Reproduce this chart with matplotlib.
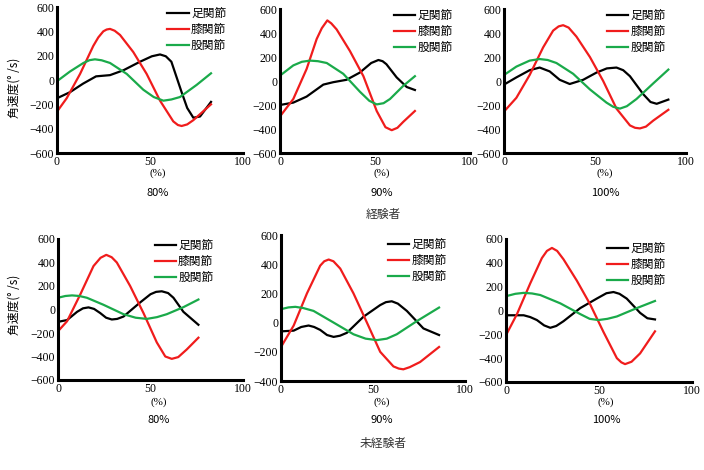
import matplotlib
matplotlib.use("Agg")
import matplotlib.pyplot as plt

#%%
# data (x: % of cycle, y: angular velocity deg/s)
labels = ["足関節", "膝関節", "股関節"]
colors = ["#000000", "#f01c1c", "#1aaa4a"]

# 経験者 80%
e80_ankle_x = [0, 7, 14, 21, 28.5, 35.7, 44.6, 51, 55.4, 58.5, 61.5, 67, 70, 73.3, 76.9, 82.8]
e80_ankle_y = [-150, -100, -30, 30, 40, 80, 150, 195, 210, 195, 150, -100, -230, -310, -300, -180]
e80_knee_x = [0, 5.2, 12.4, 19.5, 22.2, 24.9, 26.7, 28.5, 31, 33.9, 41, 48.2, 55.4, 62.5, 65, 67, 70, 73.3, 82.8]
e80_knee_y = [-260, -150, 50, 280, 350, 400, 415, 420, 405, 370, 230, 50, -170, -340, -370, -378, -365, -330, -200]
e80_hip_x = [0, 7, 14.2, 17.5, 20.4, 24, 28.5, 37.5, 46.4, 52, 57.2, 61.5, 66.1, 75.1, 82.8]
e80_hip_y = [-10, 70, 140, 163, 170, 162, 140, 50, -80, -140, -170, -160, -140, -40, 55]

# 経験者 90%
e90_ankle_x = [0, 7, 14, 22.8, 28, 35, 42, 48, 51.8, 54, 56, 61.4, 66.7, 71]
e90_ankle_y = [-200, -180, -130, -30, -10, 10, 70, 150, 175, 165, 140, 30, -50, -75]
e90_knee_x = [0, 7, 14, 19.3, 22, 24.9, 27, 29.8, 36.8, 43.9, 50.9, 55.5, 58.8, 61.8, 64.9, 71]
e90_knee_y = [-295, -150, 100, 350, 440, 505, 480, 430, 250, 40, -250, -385, -410, -390, -340, -250]
e90_hip_x = [0, 7, 11.5, 15.8, 20, 24.6, 33.3, 42.1, 47, 50.9, 54.5, 57.9, 64.9, 71]
e90_hip_y = [45, 130, 160, 170, 165, 150, 60, -90, -165, -195, -185, -150, -40, 40]

# 経験者 100%
e100_ankle_x = [0, 6.8, 14.1, 19.6, 25.1, 30.6, 36.1, 43.5, 50.8, 56.5, 61.8, 65.5, 69.2, 76.5, 80.5, 83.9, 90.3]
e100_ankle_y = [-30, 30, 90, 112, 80, 10, -25, 10, 70, 105, 112, 90, 40, -110, -175, -190, -155]
e100_knee_x = [0, 6.8, 14.1, 21.5, 27, 30, 32.5, 35.5, 39.8, 47.2, 54.5, 61.8, 69.2, 72, 74.7, 78, 82, 90.3]
e100_knee_y = [-255, -140, 50, 280, 420, 455, 465, 445, 370, 200, 0, -230, -370, -390, -395, -380, -330, -240]
e100_hip_x = [0, 6.8, 14.1, 19.6, 24, 28.8, 38, 47.2, 56.3, 60, 63.7, 67.5, 72.8, 82, 90.3]
e100_hip_y = [50, 120, 170, 183, 175, 150, 60, -70, -180, -215, -230, -210, -150, -20, 95]

# 未経験者 80%
n80_ankle_x = [0, 4.9, 10.3, 13.5, 16.5, 19.5, 22.8, 26, 29.1, 32, 35.4, 44.4, 50, 53, 56.1, 59.5, 62.4, 67.8, 75.9]
n80_ankle_y = [-105, -90, -20, 10, 18, 5, -30, -70, -85, -80, -60, 60, 130, 150, 155, 140, 100, -20, -130]
n80_knee_x = [0, 4.9, 12.1, 19.2, 23, 26.1, 29, 31.8, 39, 46.2, 53.4, 58, 61.5, 65, 69.6, 75.9]
n80_knee_y = [-185, -100, 130, 370, 440, 465, 445, 400, 200, -30, -280, -400, -420, -405, -340, -240]
n80_hip_x = [0, 4, 7.6, 11.5, 15.6, 24.6, 35.4, 42, 48, 53.5, 58.8, 67.8, 75.9]
n80_hip_y = [100, 115, 120, 115, 100, 40, -40, -70, -80, -65, -40, 20, 85]

# 未経験者 90%
n90_ankle_x = [0, 6.9, 11, 15, 18, 21.3, 25, 28.6, 32, 35.8, 44.8, 53.9, 57, 60.2, 63.5, 68.4, 77.4, 85.9]
n90_ankle_y = [-60, -55, -30, -20, -30, -50, -85, -98, -90, -70, 40, 120, 140, 146, 130, 80, -40, -85]
n90_knee_x = [0, 6.9, 14.1, 21.3, 23.5, 25.9, 28.5, 32.2, 39.4, 46.7, 53.9, 61.1, 64, 66.5, 70, 75.6, 85.9]
n90_knee_y = [-167, -20, 200, 390, 420, 432, 420, 370, 200, 0, -200, -300, -315, -320, -305, -270, -167]
n90_hip_x = [0, 4, 7.8, 12, 17.7, 28.6, 39.4, 46, 52.1, 57.5, 62.9, 73.8, 85.9]
n90_hip_y = [92, 104, 108, 100, 80, 0, -80, -110, -120, -110, -80, 10, 103]

# 未経験者 100%
n100_ankle_x = [0, 5, 9.5, 13, 16.6, 20.5, 23.8, 27, 30.9, 39.9, 48.8, 54, 57.8, 61, 64.9, 72.1, 76, 80.1]
n100_ankle_y = [-40, -40, -40, -55, -80, -125, -145, -130, -90, 20, 100, 145, 155, 140, 100, -20, -65, -75]
n100_knee_x = [0, 5.9, 13.1, 19.3, 22, 24.7, 27.5, 30.9, 38.1, 45.3, 52.4, 59.6, 62, 64, 67.5, 72.1, 80.1]
n100_knee_y = [-207, -30, 230, 440, 500, 525, 500, 430, 250, 50, -180, -400, -435, -450, -430, -360, -175]
n100_hip_x = [0, 5, 9.5, 14, 18.4, 29.2, 39.9, 45, 49.7, 54.5, 59.6, 70.3, 80.1]
n100_hip_y = [120, 140, 148, 143, 130, 60, -30, -70, -80, -70, -50, 20, 80]

speed_labels = ["80%", "90%", "100%"]

#%%
W, H = 704, 470
serif = "Liberation Serif"
cjk = ["Noto Sans CJK JP", "DejaVu Sans"]

def px_axes(fig, l, r, t, b):
    return fig.add_axes([l / W, 1 - b / H, (r - l) / W, (b - t) / H])

def ftext(fig, x, y, s, **kw):
    fig.text(x / W, 1 - y / H, s, ha="center", va="center", **kw)

def plot_panel(ax, series, ylims, leg_anchor):
    for (x, y), lab, c in zip(series, labels, colors):
        ax.plot(x, y, color=c, lw=1.6, label=lab, solid_joinstyle="round")
    ax.set_xlim(0, 100)
    ax.set_ylim(*ylims)
    ax.set_xticks([0, 50, 100])
    ax.set_yticks(range(ylims[0], ylims[1] + 1, 200))
    for s in ["top", "right"]:
        ax.spines[s].set_visible(False)
    for s in ["left", "bottom"]:
        ax.spines[s].set_linewidth(2.2)
    ax.tick_params(length=0, pad=2, labelsize=8.5)
    for lab in ax.get_xticklabels() + ax.get_yticklabels():
        lab.set_fontfamily(serif)
    ax.legend(loc="upper right", bbox_to_anchor=leg_anchor, frameon=False,
              prop={"family": cjk, "size": 8.5}, handlelength=1.8,
              handletextpad=0.2, labelspacing=0.25, borderpad=0, borderaxespad=0)

fig = plt.figure(figsize=(W / 100, H / 100), dpi=100)

ax1 = px_axes(fig, 57, 243, 7, 153)
plot_panel(ax1, [(e80_ankle_x, e80_ankle_y), (e80_knee_x, e80_knee_y), (e80_hip_x, e80_hip_y)],
           (-600, 600), (0.91, 1.0))
ax2 = px_axes(fig, 280, 470, 9, 153)
plot_panel(ax2, [(e90_ankle_x, e90_ankle_y), (e90_knee_x, e90_knee_y), (e90_hip_x, e90_hip_y)],
           (-600, 600), (0.91, 1.0))
ax3 = px_axes(fig, 504, 686, 9, 153)
plot_panel(ax3, [(e100_ankle_x, e100_ankle_y), (e100_knee_x, e100_knee_y), (e100_hip_x, e100_hip_y)],
           (-600, 600), (0.89, 1.0))
ax4 = px_axes(fig, 58, 243, 239, 380)
plot_panel(ax4, [(n80_ankle_x, n80_ankle_y), (n80_knee_x, n80_knee_y), (n80_hip_x, n80_hip_y)],
           (-600, 600), (0.84, 1.0))
ax5 = px_axes(fig, 281, 465, 235, 381)
plot_panel(ax5, [(n90_ankle_x, n90_ankle_y), (n90_knee_x, n90_knee_y), (n90_hip_x, n90_hip_y)],
           (-400, 600), (0.90, 0.98))
ax6 = px_axes(fig, 506, 692, 239, 382)
plot_panel(ax6, [(n100_ankle_x, n100_ankle_y), (n100_knee_x, n100_knee_y), (n100_hip_x, n100_hip_y)],
           (-600, 600), (0.86, 0.98))

#### axis captions
for xc, lab in zip([158, 382, 605], speed_labels):
    ftext(fig, xc, 173, "(%)", family=serif, size=8)
    ftext(fig, xc, 193, lab, family=cjk, size=8)
for xc, lab in zip([159, 382, 606], speed_labels):
    ftext(fig, xc, 402, "(%)", family=serif, size=8)
    ftext(fig, xc, 420, lab, family=cjk, size=8)
ftext(fig, 383, 215, "経験者", family=cjk, size=8.5, color="#333333")
ftext(fig, 383, 444, "未経験者", family=cjk, size=8.5, color="#333333")
ftext(fig, 14, 88, "角速度(° /s)", family=cjk, size=8.5, rotation=90)
ftext(fig, 14, 305, "角速度(° /s)", family=cjk, size=8.5, rotation=90)

fig.savefig("out.png", dpi=100)
